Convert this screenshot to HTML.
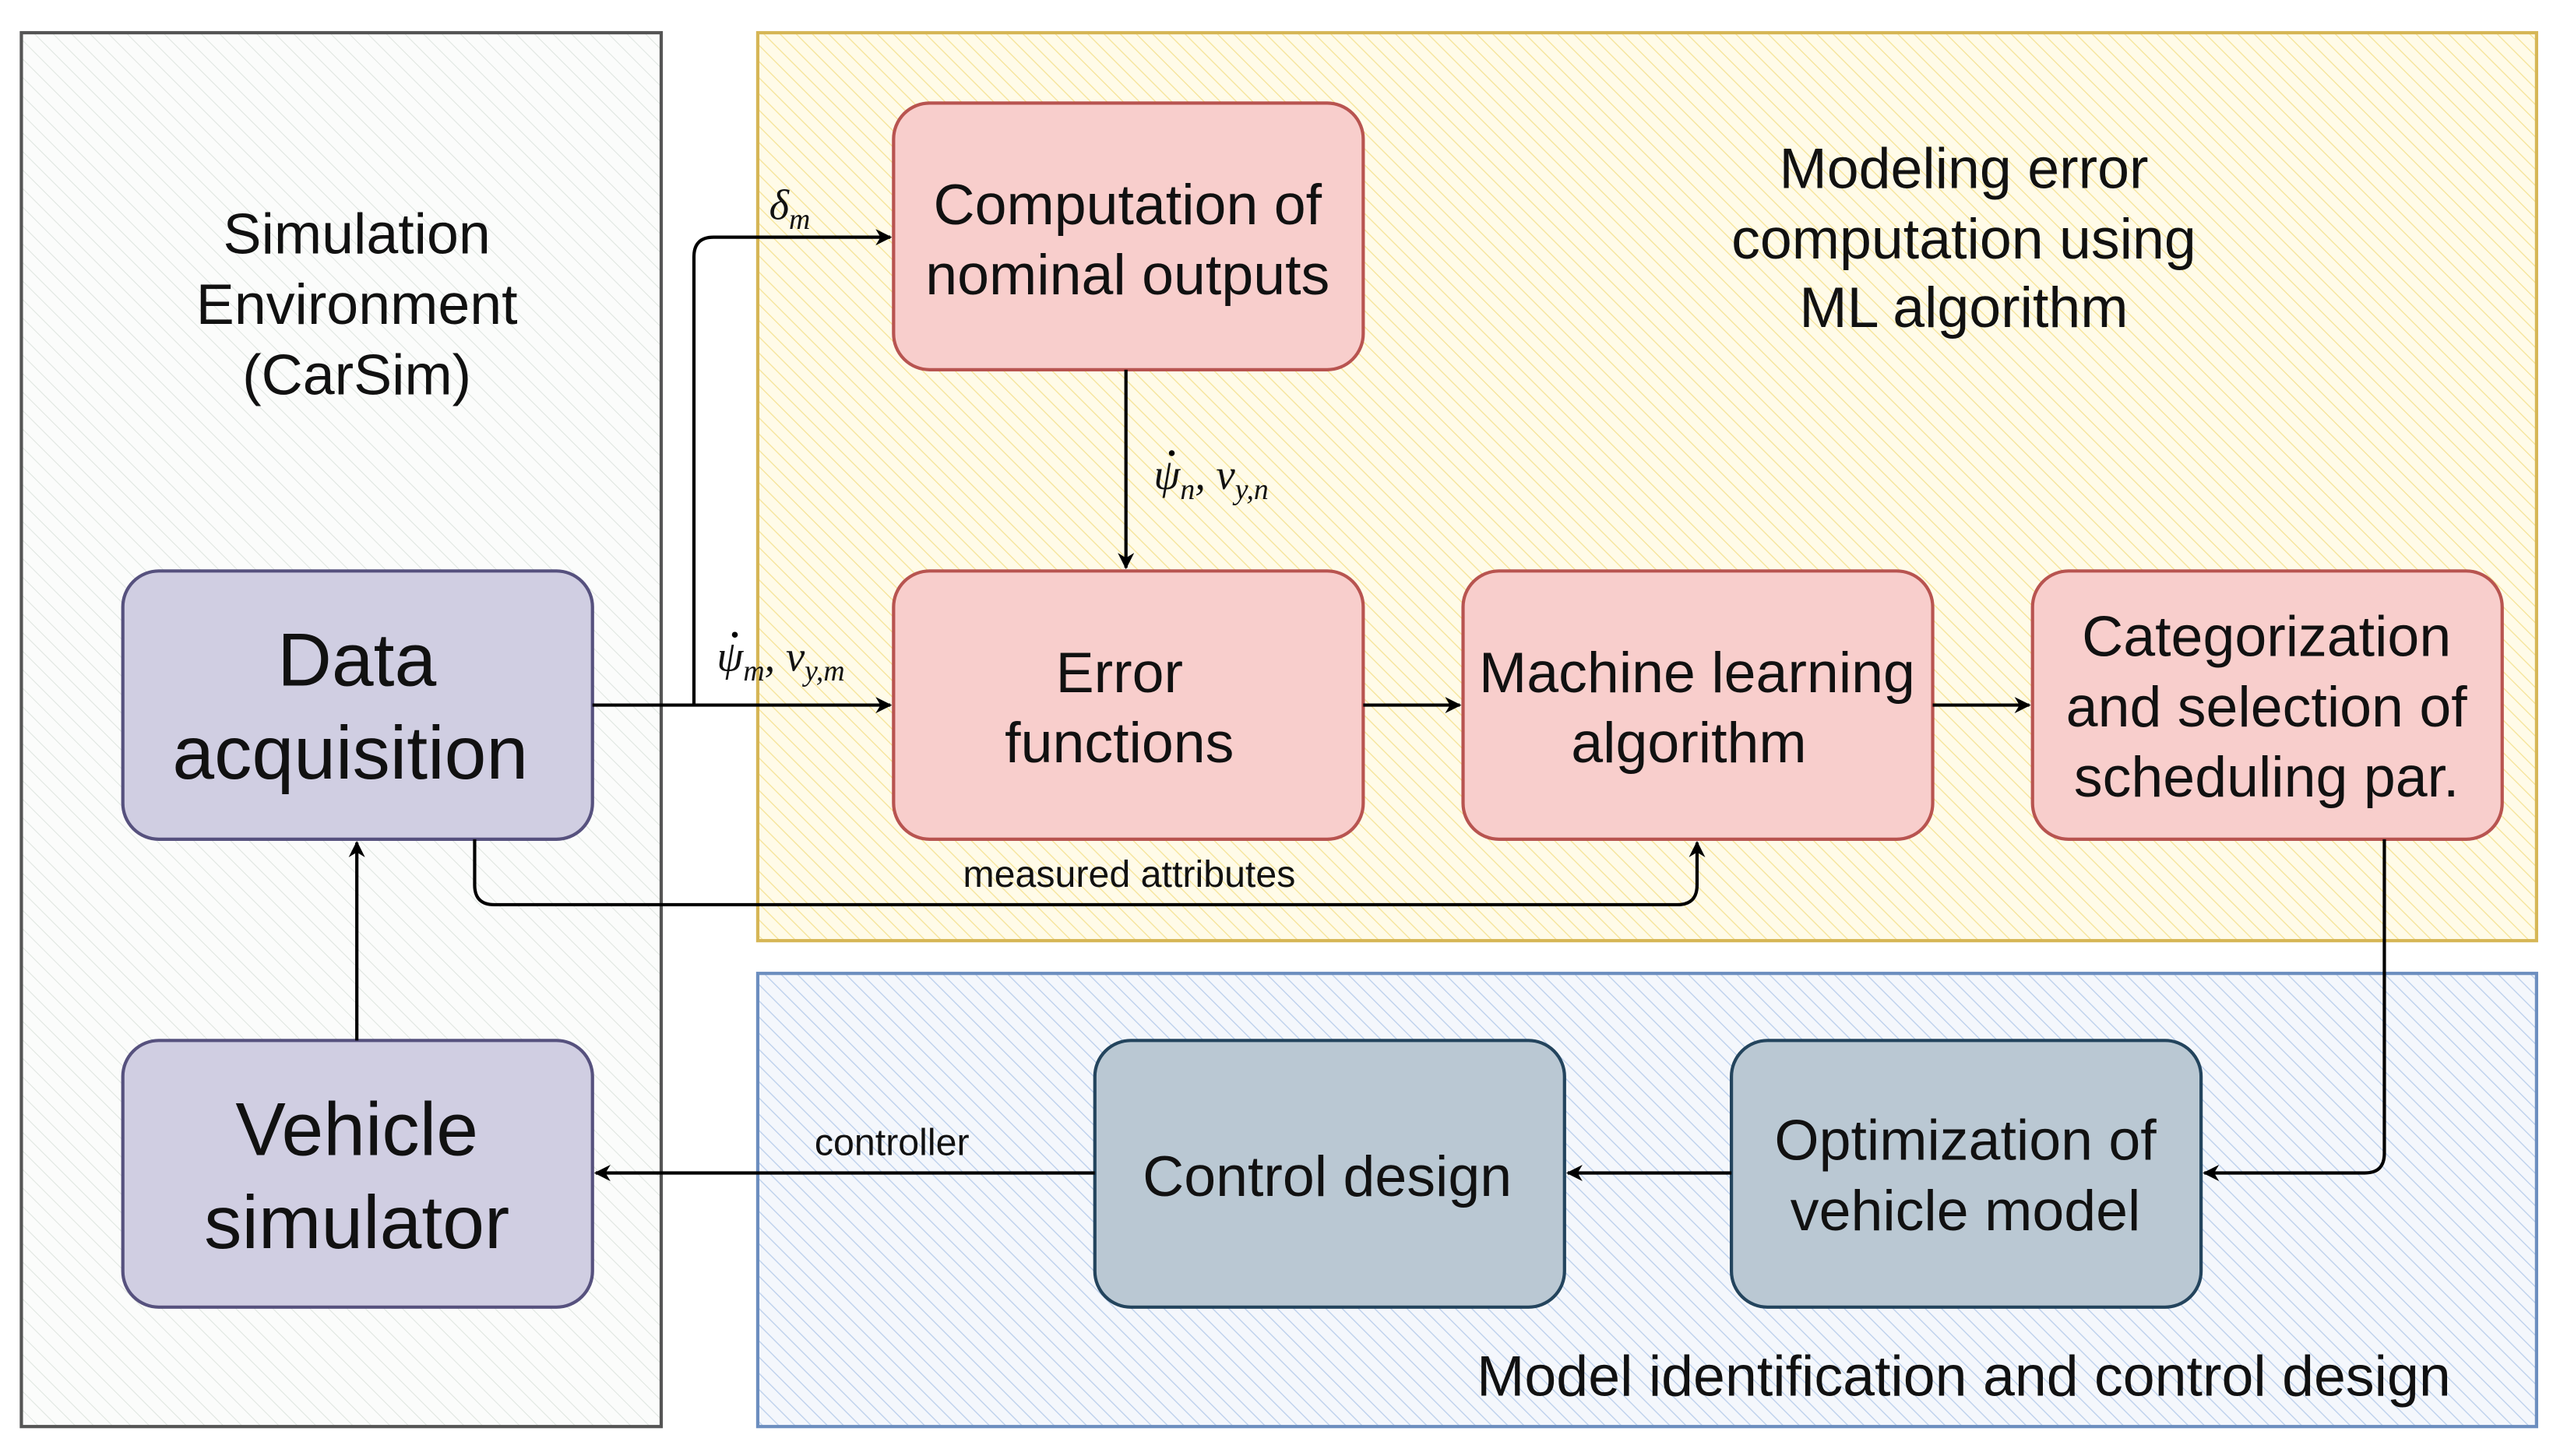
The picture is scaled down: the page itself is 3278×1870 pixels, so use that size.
<!DOCTYPE html>
<html><head><meta charset="utf-8"><style>
html,body{margin:0;padding:0;background:#fff;}
svg{display:block;}
text{font-family:"Liberation Sans",sans-serif;fill:#111;}
</style></head><body>
<svg width="3278" height="1870" viewBox="0 0 1560 890" xmlns="http://www.w3.org/2000/svg">
<defs>
<pattern id="hg" width="8" height="8" patternUnits="userSpaceOnUse" patternTransform="rotate(-45)"><rect width="8" height="8" fill="#fbfcfb"/><line x1="0" y1="0" x2="0" y2="8" stroke="#dfe5e0" stroke-width="1"/></pattern>
<pattern id="hy" width="7" height="7" patternUnits="userSpaceOnUse" patternTransform="rotate(-45)"><rect width="7" height="7" fill="#fffbe8"/><line x1="0" y1="0" x2="0" y2="7" stroke="#f6e49a" stroke-width="1.3"/></pattern>
<pattern id="hb" width="7" height="7" patternUnits="userSpaceOnUse" patternTransform="rotate(-45)"><rect width="7" height="7" fill="#f4f7fc"/><line x1="0" y1="0" x2="0" y2="7" stroke="#bcd0ec" stroke-width="1.3"/></pattern>
<marker id="ar" markerWidth="10" markerHeight="10" refX="9" refY="5" orient="auto" markerUnits="userSpaceOnUse"><path d="M0,0 L10,5 L0,10 L3,5 Z" fill="#000"/></marker>
</defs>
<rect x="13" y="20" width="391" height="852" fill="url(#hg)" stroke="#555" stroke-width="2"/>
<rect x="463" y="20" width="1087" height="555" fill="url(#hy)" stroke="#d6b656" stroke-width="2"/>
<rect x="463" y="595" width="1087" height="277" fill="url(#hb)" stroke="#6c8ebf" stroke-width="2"/>
<g font-size="35" text-anchor="middle">
<text x="218" y="155">Simulation</text><text x="218" y="198">Environment</text><text x="218" y="241">(CarSim)</text>
<text x="1200" y="115">Modeling error</text><text x="1200" y="158">computation using</text><text x="1200" y="200">ML algorithm</text>
<text x="1200" y="853">Model identification and control design</text>
</g>
<g stroke-width="2">
<rect x="75" y="349" width="287" height="164" rx="22" fill="#d0cee2" stroke="#56517e"/>
<rect x="75" y="636" width="287" height="163" rx="22" fill="#d0cee2" stroke="#56517e"/>
<rect x="546" y="63" width="287" height="163" rx="22" fill="#f8cecc" stroke="#b85450"/>
<rect x="546" y="349" width="287" height="164" rx="22" fill="#f8cecc" stroke="#b85450"/>
<rect x="894" y="349" width="287" height="164" rx="22" fill="#f8cecc" stroke="#b85450"/>
<rect x="1242" y="349" width="287" height="164" rx="22" fill="#f8cecc" stroke="#b85450"/>
<rect x="669" y="636" width="287" height="163" rx="22" fill="#bac8d3" stroke="#23445d"/>
<rect x="1058" y="636" width="287" height="163" rx="22" fill="#bac8d3" stroke="#23445d"/>
</g>
<g font-size="46" text-anchor="middle">
<text x="218" y="419">Data</text><text x="214" y="476">acquisition</text>
<text x="218" y="706">Vehicle</text><text x="218" y="763">simulator</text>
</g>
<g font-size="35" text-anchor="middle">
<text x="689" y="137">Computation of</text><text x="689" y="180">nominal outputs</text>
<text x="684" y="423">Error</text><text x="684" y="466">functions</text>
<text x="1037" y="423">Machine learning</text><text x="1032" y="466">algorithm</text>
<text x="1385" y="401">Categorization</text><text x="1385" y="444">and selection of</text><text x="1385" y="487">scheduling par.</text>
<text x="811" y="731">Control design</text>
<text x="1201" y="709">Optimization of</text><text x="1201" y="752">vehicle model</text>
</g>
<g fill="none" stroke="#000" stroke-width="2">
<path d="M362,431 L544,431" marker-end="url(#ar)"/>
<path d="M424,431 L424,157 Q424,145 436,145 L544,145" marker-end="url(#ar)"/>
<path d="M688,226 L688,347" marker-end="url(#ar)"/>
<path d="M833,431 L892,431" marker-end="url(#ar)"/>
<path d="M1181,431 L1240,431" marker-end="url(#ar)"/>
<path d="M1457,513 L1457,705 Q1457,717 1445,717 L1347,717" marker-end="url(#ar)"/>
<path d="M1058,717 L958,717" marker-end="url(#ar)"/>
<path d="M669,717 L364,717" marker-end="url(#ar)"/>
<path d="M218,636 L218,515" marker-end="url(#ar)"/>
<path d="M290,513 L290,541 Q290,553 302,553 L1025,553 Q1037,553 1037,541 L1037,515" marker-end="url(#ar)"/>
</g>
<g font-size="23">
<text x="545" y="706" text-anchor="middle">controller</text>
<text x="690" y="542" text-anchor="middle">measured attributes</text>
</g>
<g font-size="26" font-family="Liberation Serif" font-style="italic">
<text x="470" y="134" style="font-family:'Liberation Serif',serif">δ<tspan font-size="18" dy="6">m</tspan></text>
<text x="438" y="410" style="font-family:'Liberation Serif',serif">ψ<tspan font-size="18" dy="6">m</tspan><tspan dy="-6">, v</tspan><tspan font-size="18" dy="6">y,m</tspan></text>
<text x="705" y="299" style="font-family:'Liberation Serif',serif">ψ<tspan font-size="18" dy="6">n</tspan><tspan dy="-6">, v</tspan><tspan font-size="18" dy="6">y,n</tspan></text>
</g>
<circle cx="449" cy="388" r="1.8" fill="#000"/>
<circle cx="716" cy="277" r="1.8" fill="#000"/>
</svg>
</body></html>
